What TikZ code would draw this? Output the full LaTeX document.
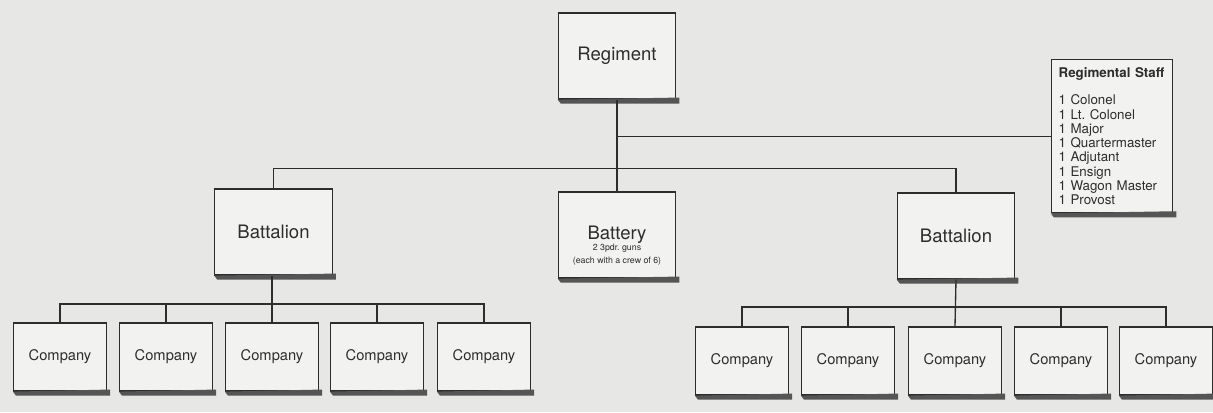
\documentclass[tikz,border=0pt]{standalone}
\usepackage{fontspec}
\setmainfont{TeX Gyre Heros}
\usetikzlibrary{calc}
\definecolor{paper}{RGB}{231,231,229}
\definecolor{boxfill}{RGB}{242,242,240}
\definecolor{ink}{RGB}{45,45,45}
\definecolor{shadecol}{RGB}{85,85,85}
\newcommand{\dropshade}[1]{\fill[shadecol] (#1.south west) -- ++(3,4) -- ($(#1.south east)+(3,4)$) -- ($(#1.south east)+(3,-2)$) -- ($(#1.south east)+(0,-2)$) -- cycle;}
\newcommand{\subfont}{\fontsize{6.6}{8}\selectfont}
\frenchspacing
\begin{document}
\begin{tikzpicture}[x=0.75pt,y=-0.75pt,
  unit/.style={draw=ink, line width=0.9pt, fill=boxfill, text=ink, inner sep=0pt, align=center},
  bigunit/.style={unit, minimum width=88pt, minimum height=64.5pt, font=\fontsize{13.9}{16}\selectfont},
  company/.style={unit, minimum width=69.75pt, minimum height=51pt, font=\fontsize{11}{13}\selectfont},
  staffbox/.style={unit, minimum width=91pt, minimum height=115pt, text width=80pt, align=left, inner xsep=5pt, font=\fontsize{10}{10.7}\selectfont},
  link/.style={draw=ink, line width=1pt}]
\fill[paper] (0,0) rectangle (1213,412);
\useasboundingbox (0,0) rectangle (1213,412);

% top level
\node[bigunit] (reg) at (617,56) {Regiment};
\node[staffbox] (staff) at (1112,136) {\textbf{Regimental Staff}\\[10pt]
1 Colonel\\1 Lt. Colonel\\1 Major\\1 Quartermaster\\1 Adjutant\\1 Ensign\\1 Wagon Master\\1 Provost};

% second level
\node[bigunit] (bat) at (617,235) {\rule{0pt}{26pt}Battery\\[-8pt]\subfont 2 3pdr. guns\\[-6pt]\subfont (each with a crew of 6)};
\node[bigunit] (bnl) at (273.5,232) {Battalion};
\node[bigunit] (bnr) at (956,236) {Battalion};

% companies
\foreach \i/\x in {1/60,2/166,3/272,4/377,5/484}
  \node[company] (cl\i) at (\x,357) {Company};
\foreach \i/\x in {1/742,2/848,3/955,4/1061,5/1166}
  \node[company] (cr\i) at (\x,361) {Company};

% shadows
\foreach \n in {reg,staff,bat,bnl,bnr,cl1,cl2,cl3,cl4,cl5,cr1,cr2,cr3,cr4,cr5}
  \dropshade{\n};

% connectors
\coordinate (j1) at ($(reg.south)+(0,37)$);
\coordinate (j2) at ($(reg.south)+(0,69)$);
\draw[link] (reg.south) -- (bat.north);
\draw[link] (j1) -- (j1 -| staff.west);
\draw[link] (bnl.north) |- (j2) -| (bnr.north);
\coordinate (jl) at (272,304);
\coordinate (jr) at (955,307);
\draw[link] (bnl.south -| jl) -- (cl3.north);
\draw[link] (cl1.north) |- (jl) -| (cl5.north);
\draw[link] (cl2.north) -- (cl2.north |- jl);
\draw[link] (cl4.north) -- (cl4.north |- jl);
\draw[link] (bnr.south) -- (cr3.north);
\draw[link] (cr1.north) |- (jr) -| (cr5.north);
\draw[link] (cr2.north) -- (cr2.north |- jr);
\draw[link] (cr4.north) -- (cr4.north |- jr);
\end{tikzpicture}
\end{document}
